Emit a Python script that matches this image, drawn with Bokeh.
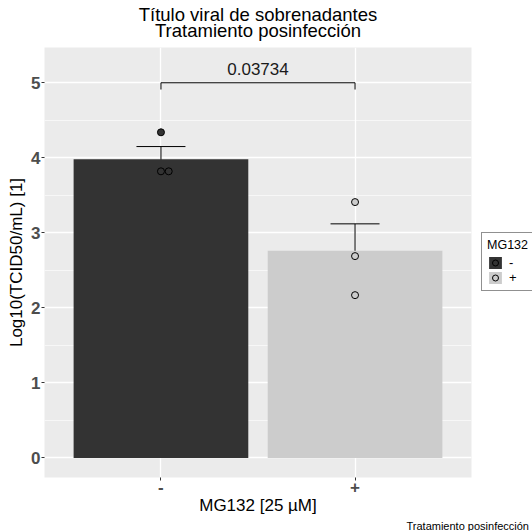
from bokeh.plotting import figure
from bokeh.models import (ColumnDataSource, CDSView, GroupFilter, FactorRange, Range1d,
                          Whisker, TeeHead, Legend, LegendItem, Title, SingleIntervalTicker)
from bokeh.core.properties import value
from bokeh.embed import file_html
from bokeh.resources import INLINE

# ---- data ----
groups = ["-", "+"]
group_colors = ["#333333", "#cccccc"]
means = [3.98, 2.76]
se_lower = [3.80, 2.41]
se_upper = [4.15, 3.12]

point_groups = ["-", "-", "-", "+", "+", "+"]
point_values = [4.34, 3.82, 3.82, 3.41, 2.69, 2.17]
point_jitter = [0.0, 0.0, 0.04, 0.0, 0.0, 0.0]

bracket_y = 5.0
bracket_tip = 4.91
p_label = "0.03734"
p_label_y = 5.19

title_line1 = "Título viral de sobrenadantes"
title_line2 = "Tratamiento posinfección"
x_title = "MG132 [25 µM]"
y_title = "Log10(TCID50/mL) [1]"
legend_title = "MG132"
caption = "Tratamiento posinfección"

FONT = "Liberation Sans"

# ---- sources ----
color_of = dict(zip(groups, group_colors))
bar_src = ColumnDataSource(dict(group=groups, mean=means, lower=se_lower, upper=se_upper,
                                color=group_colors))
pt_src = ColumnDataSource(dict(group=point_groups,
                               x=[(g, j) for g, j in zip(point_groups, point_jitter)],
                               y=point_values,
                               color=[color_of[g] for g in point_groups]))

p = figure(width=532, height=531, frame_width=427, frame_height=430,
           output_backend="svg", toolbar_location=None,
           x_range=FactorRange(factors=groups, range_padding=0.1),
           y_range=Range1d(-0.26, 5.47),
           min_border_left=44, min_border_right=0, min_border_top=47, min_border_bottom=54)

p.background_fill_color = "#ebebeb"
p.border_fill_color = "white"
p.outline_line_color = None

bar_r = {}
pt_r = {}
for g in groups:
    bar_r[g] = p.vbar(x="group", top="mean", bottom=0, width=0.9, source=bar_src,
                      view=CDSView(filter=GroupFilter(column_name="group", group=g)),
                      fill_color="color", line_color=None)
for g in groups:
    pt_r[g] = p.scatter(x="x", y="y", source=pt_src, size=7,
                        view=CDSView(filter=GroupFilter(column_name="group", group=g)),
                        fill_color="color", line_color="black", line_width=1)

# error bars
w = Whisker(base="group", upper="upper", lower="lower", source=bar_src,
            line_color="black", line_width=1,
            upper_head=TeeHead(size=49, line_color="black", line_width=1),
            lower_head=TeeHead(size=49, line_color="black", line_width=1))
p.add_layout(w)

# significance bracket
p.line(x=[groups[0], groups[0], groups[1], groups[1]],
       y=[bracket_tip, bracket_y, bracket_y, bracket_tip],
       line_color="black", line_width=1)
p.text(x=[(groups[0], 0.5)], y=[p_label_y], text=[p_label],
       text_font=value(FONT), text_font_size="17px", text_color="#1a1a1a",
       text_align="center", text_baseline="alphabetic")

# axes & grid
p.yaxis.ticker = SingleIntervalTicker(interval=1, num_minor_ticks=2)
p.ygrid.grid_line_color = "white"
p.ygrid.grid_line_width = 1.3
p.ygrid.minor_grid_line_color = "white"
p.ygrid.minor_grid_line_width = 0.6
p.xgrid.grid_line_color = "white"
p.xgrid.grid_line_width = 1.3

for ax in (p.xaxis[0], p.yaxis[0]):
    ax.axis_line_color = None
    ax.major_tick_line_color = "#333333"
    ax.major_tick_out = 3
    ax.major_tick_in = 0
    ax.minor_tick_out = 0
    ax.minor_tick_in = 0
    ax.major_label_text_font = FONT
    ax.major_label_text_font_style = "bold"
    ax.major_label_text_font_size = "17px"
    ax.major_label_text_color = "#4d4d4d"
    ax.axis_label_text_font = FONT
    ax.axis_label_text_font_style = "normal"
    ax.axis_label_text_font_size = "17px"
    ax.axis_label_text_color = "black"

p.xaxis.axis_label = x_title
p.yaxis.axis_label = y_title
p.yaxis.major_label_standoff = 1
p.yaxis.axis_label_standoff = 2
p.xaxis.major_label_standoff = 0
p.xaxis.axis_label_standoff = 0

# title: two centred lines stacked tightly (p.title is the outer one;
# the first "above" panel is a small spacer next to the frame)
p.title.text = title_line1
p.title.align = "center"
p.title.text_font = FONT
p.title.text_font_size = "18.5px"
p.title.text_font_style = "normal"
p.title.text_color = "black"
p.title.standoff = -7
p.add_layout(Title(text=" ", text_font_size="1px", standoff=8), "above")
p.add_layout(Title(text=title_line2, align="center", text_font=FONT, text_font_size="18.5px",
                   text_font_style="normal", text_color="black", standoff=-8), "above")

# legend (right panel, runs off the right edge like the reference)
legend = Legend(items=[LegendItem(label=g, renderers=[bar_r[g], pt_r[g]]) for g in groups],
                location=(10, 186), title=legend_title,
                title_text_font=FONT, title_text_font_size="12.5px", title_text_font_style="normal",
                title_text_color="black", title_standoff=3,
                label_text_font=FONT, label_text_font_size="13px", label_text_color="black",
                glyph_width=16, glyph_height=15, label_height=15, label_width=29,
                label_standoff=6, spacing=0, padding=5, margin=0,
                border_line_color="#222222", border_line_width=1,
                background_fill_color="white", background_fill_alpha=1)
p.add_layout(legend, "right")

# caption
p.add_layout(Title(text=caption, align="left", offset=362, standoff=0, text_font=FONT,
                   text_font_size="11px", text_font_style="normal", text_color="black"), "below")

open("out.html", "w").write(file_html(p, INLINE))
